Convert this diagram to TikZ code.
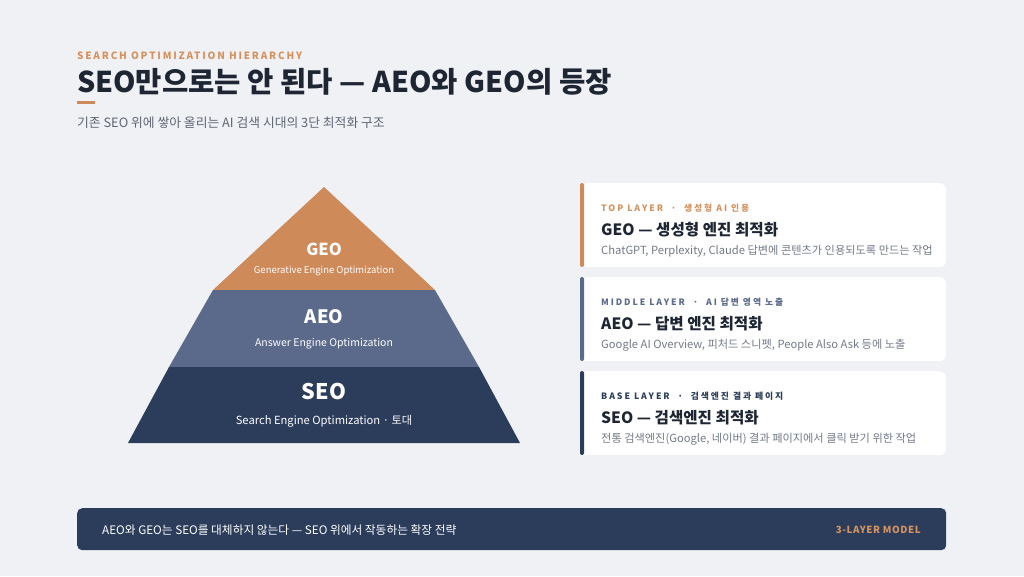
\documentclass[tikz,border=0pt]{standalone}
\usepackage{fontspec}
\setmainfont{Noto Sans CJK KR}
\newfontfamily\spaced[LetterSpace=18]{Noto Sans CJK KR}
\newfontfamily\spacedlbl[LetterSpace=22]{Noto Sans CJK KR}
\newfontfamily\spacedsm[LetterSpace=6]{Noto Sans CJK KR}
\definecolor{bg}{HTML}{F0F1F5}
\definecolor{orng}{HTML}{CF8A5A}
\definecolor{orngtxt}{HTML}{D4925F}
\definecolor{slate}{HTML}{5B6A8B}
\definecolor{navy}{HTML}{2C3D5C}
\definecolor{ink}{HTML}{1E2533}
\definecolor{subgray}{HTML}{5E6573}
\definecolor{descgray}{HTML}{737A88}
\tikzset{
  txt/.style={inner sep=0pt, anchor=base west},
  ctxt/.style={inner sep=0pt, anchor=base},
  card/.style={fill=white, rounded corners=7pt, draw=none, inner sep=0pt, minimum width=366pt, minimum height=84pt, anchor=north west},
  accent/.style={rounded corners=2pt, draw=none},
  layerlbl/.style={ctxt, text=white, font=\bfseries},
  layersub/.style={ctxt, text=white!88!bg},
  lbl/.style={txt, font=\spacedlbl\fontsize{8.8}{10}\selectfont\bfseries},
  ctitle/.style={txt, text=ink, font=\fontsize{15.6}{17}\selectfont\bfseries},
  cdesc/.style={txt, text=descgray, font=\fontsize{11.2}{13}\selectfont},
}
\begin{document}
\begin{tikzpicture}[x=1pt,y=-1pt]
\fill[bg] (0,0) rectangle (1024,576);
\useasboundingbox (0,0) rectangle (1024,576);

% header
\node[txt, text=orngtxt, font=\spaced\fontsize{10}{12}\selectfont\bfseries] (kicker) at (77,59) {SEARCH OPTIMIZATION HIERARCHY};
\node[txt, text=ink, font=\fontsize{28.6}{31}\selectfont\bfseries] (title) at (77,92) {SEO만으로는 안 된다 — AEO와 GEO의 등장};
\fill[orng] (77,101) rectangle (95,104);
\node[txt, text=subgray, font=\fontsize{12.8}{15}\selectfont] (subtitle) at (77,127) {기존 SEO 위에 쌓아 올리는 AI 검색 시대의 3단 최적화 구조};

% pyramid
\fill[orng] (324,187) -- (435,290) -- (213,290) -- cycle;
\fill[slate] (213,290) -- (435,290) -- (479,367) -- (169,367) -- cycle;
\fill[navy] (169,367) -- (479,367) -- (520,443) -- (128,443) -- cycle;

\node[layerlbl, font=\fontsize{16.5}{18}\selectfont\bfseries] (geo) at (324,255) {GEO};
\node[layersub, font=\fontsize{9.5}{11}\selectfont] (geosub) at (324,273) {Generative Engine Optimization};
\node[layerlbl, font=\fontsize{18.5}{20}\selectfont\bfseries] (aeo) at (324,323) {AEO};
\node[layersub, font=\fontsize{10.5}{12}\selectfont] (aeosub) at (324,346) {Answer Engine Optimization};
\node[layerlbl, font=\fontsize{21.5}{24}\selectfont\bfseries] (seo) at (324,399) {SEO};
\node[layersub, font=\fontsize{11.2}{13}\selectfont] (seosub) at (324,424) {Search Engine Optimization · 토대};

% cards
\node[card] (c1) at (580,183) {};
\fill[orng, accent] (580,183) rectangle (584,267);
\node[lbl, text=orngtxt] (c1l) at (601,211) {TOP LAYER \ · \ 생성형 AI 인용};
\node[ctitle] (c1t) at (601,235) {GEO — 생성형 엔진 최적화};
\node[cdesc] (c1d) at (601,254) {ChatGPT, Perplexity, Claude 답변에 콘텐츠가 인용되도록 만드는 작업};

\node[card] (c2) at (580,277) {};
\fill[slate, accent] (580,277) rectangle (584,361);
\node[lbl, text=slate] (c2l) at (601,305) {MIDDLE LAYER \ · \ AI 답변 영역 노출};
\node[ctitle] (c2t) at (601,329) {AEO — 답변 엔진 최적화};
\node[cdesc] (c2d) at (601,348) {Google AI Overview, 피처드 스니펫, People Also Ask 등에 노출};

\node[card] (c3) at (580,371) {};
\fill[navy, accent] (580,371) rectangle (584,455);
\node[lbl, text=navy] (c3l) at (601,399) {BASE LAYER \ · \ 검색엔진 결과 페이지};
\node[ctitle] (c3t) at (601,423) {SEO — 검색엔진 최적화};
\node[cdesc] (c3d) at (601,442) {전통 검색엔진(Google, 네이버) 결과 페이지에서 클릭 받기 위한 작업};

% bottom bar
\node[fill=navy, rounded corners=5pt, inner sep=0pt, minimum width=869pt, minimum height=42pt, anchor=north west] (bar) at (77,508) {};
\node[txt, text=white, font=\fontsize{11.7}{13}\selectfont] (bartxt) at (102,534) {AEO와 GEO는 SEO를 대체하지 않는다 — SEO 위에서 작동하는 확장 전략};
\node[inner sep=0pt, anchor=base east, text=orngtxt, font=\spacedsm\fontsize{9.8}{11}\selectfont\bfseries] (model) at (921,533) {3-LAYER MODEL};
\end{tikzpicture}
\end{document}
